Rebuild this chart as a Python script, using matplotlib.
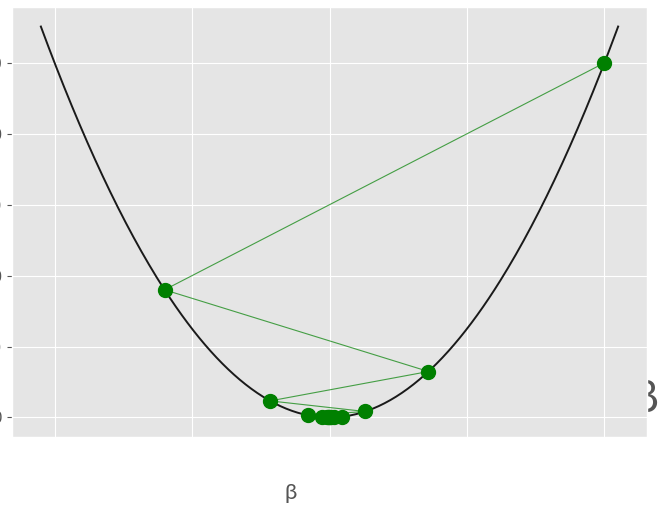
import matplotlib
matplotlib.use('Agg')
import matplotlib.pyplot as plt
import numpy as np

# gradient descent steps on the loss curve
beta_steps = [10.0, -6.0, 3.6, -2.16, 1.3, -0.78, 0.47, -0.28, 0.17,
              -0.1, 0.06, -0.04, 0.02, -0.01]
loss_steps = [100.0, 36.0, 12.96, 4.67, 1.68, 0.6, 0.22, 0.08, 0.03,
              0.01, 0.0, 0.0, 0.0, 0.0]

# the loss function itself
beta_range = (-10.5, 10.5)
x_ticks = [-10, -5, 0, 5, 10]
y_ticks = [0, 20, 40, 60, 80, 100]

plt.style.use('ggplot')

fig = plt.figure(figsize=(6.59, 5.08), dpi=100)
ax = fig.add_axes([12 / 659, 1 - 437 / 508, 635 / 659, 430 / 508])

beta = np.linspace(beta_range[0], beta_range[1], 300)
ax.plot(beta, beta ** 2, color='#1a1a1a', linewidth=1.4)
ax.plot(beta_steps, loss_steps, color='green', linewidth=0.8, alpha=0.7)
ax.plot(beta_steps, loss_steps, 'o', color='green', markersize=10,
        linestyle='none')

ax.set_xticks(x_ticks)
ax.set_xticklabels([])
ax.tick_params(axis='x', length=0)
ax.set_yticks(y_ticks)
ax.tick_params(axis='y', labelsize=11)

fig.text(291 / 659, 1 - 499 / 508, 'β', ha='center', va='baseline',
         fontsize=16, color='#555555', family='Lato')
fig.text(659 / 659, 1 - 412 / 508, 'β', ha='right', va='baseline',
         fontsize=32, color='#555555', family='Lato', zorder=-1)

fig.savefig('out.png', dpi=100)
